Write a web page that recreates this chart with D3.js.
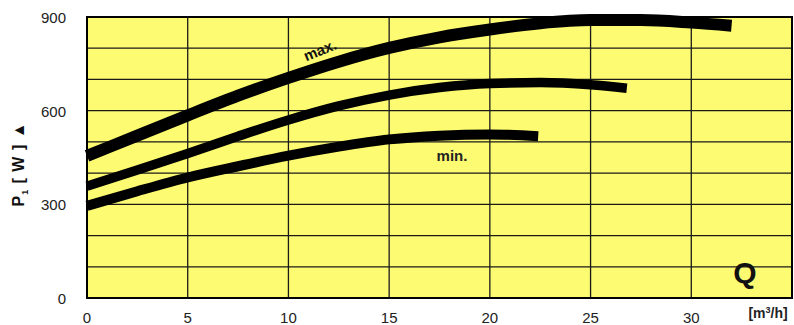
<!DOCTYPE html>
<html><head><meta charset="utf-8">
<script src="https://cdn.jsdelivr.net/npm/d3@7"></script>
<style>body{margin:0;background:#fff}svg{display:block}text{font-family:"Liberation Sans",Arial,sans-serif}</style>
</head><body><svg id="c" width="794" height="325"></svg>
<script>
const xTicks = [0,5,10,15,20,25,30];
const yTicks = [0,300,600,900];
const yGrid = [0,100,200,300,400,500,600,700,800,900];
const qMax = [0,2.5,5,7.5,10,12.5,15,17.5,20,22.5,25,27.5,30,32];
const pMax = [455,520,585,648,705,757,801,835,860,880,890,890,882,872];
const qMid = [0,2.5,5,7.5,10,12.5,15,17.5,20,22.5,25,26.8];
const pMid = [358,410,463,518,570,615,650,674,687,690,683,672];
const qMin = [0,2.5,5,7.5,10,12.5,15,17.5,20,22.4];
const pMin = [295,342,386,422,456,485,508,520,524,518];

const svg = d3.select("#c");
const L=87, R=792, T=17, B=298;
const x = d3.scaleLinear().domain([0,35]).range([L,R]);
const y = d3.scaleLinear().domain([0,900]).range([B,T]);

svg.append("rect").attr("x",L).attr("y",T).attr("width",R-L).attr("height",B-T).attr("fill","#fdfb72");

const g = svg.append("g");
g.selectAll(".hg").data(yGrid).join("line").attr("x1",L).attr("x2",R)
  .attr("y1",d=>y(d)).attr("y2",d=>y(d)).attr("stroke","#1a1a1a").attr("stroke-width",1.3);
g.selectAll(".vg").data(d3.range(0,35,5)).join("line").attr("y1",T).attr("y2",B)
  .attr("x1",d=>x(d)).attr("x2",d=>x(d)).attr("stroke","#1a1a1a").attr("stroke-width",1.3);

svg.append("rect").attr("x",L).attr("y",T).attr("width",R-L).attr("height",B-T)
  .attr("fill","none").attr("stroke","#000").attr("stroke-width",2);

const line = d3.line().x(d=>x(d[0])).y(d=>y(d[1])).curve(d3.curveMonotoneX);
const series = [[qMax,pMax,12],[qMid,pMid,9.5],[qMin,pMin,10]];
series.forEach(([q,p,w])=>{
  svg.append("path").datum(q.map((v,i)=>[v,p[i]])).attr("d",line)
    .attr("fill","none").attr("stroke","#000").attr("stroke-width",w);
});

svg.selectAll(".xt").data(xTicks).join("text").attr("x",d=>x(d)).attr("y",323)
  .attr("text-anchor","middle").attr("font-size",15).attr("fill","#222").text(d=>d);
svg.selectAll(".yt").data(yTicks).join("text").attr("x",66).attr("y",d=>y(d)+6)
  .attr("text-anchor","end").attr("font-size",15).attr("fill","#222").text(d=>d);

const yl = svg.append("text").attr("transform","translate(24,164) rotate(-90)")
  .attr("text-anchor","middle").attr("font-size",16).attr("font-weight","bold").attr("fill","#111")
  .attr("letter-spacing",1);
yl.append("tspan").text("P");
yl.append("tspan").attr("font-size",9).attr("dy",4).text("1");
yl.append("tspan").attr("dy",-4).text(" [ W ]  ▲");

svg.append("text").attr("x",768).attr("y",318).attr("text-anchor","middle").attr("font-size",14)
  .attr("font-weight","bold").attr("fill","#222").html('[m<tspan font-size="9" dy="-5">3</tspan><tspan dy="5">/h]</tspan>');

svg.append("text").attr("x",745).attr("y",283).attr("text-anchor","middle").attr("font-size",30)
  .attr("font-weight","bold").attr("fill","#111").text("Q");

svg.append("text").attr("transform","translate(322,55) rotate(-22)").attr("text-anchor","middle")
  .attr("font-size",15).attr("font-weight","bold").attr("fill","#111").text("max.");
svg.append("text").attr("x",452).attr("y",161).attr("text-anchor","middle")
  .attr("font-size",15).attr("font-weight","bold").attr("fill","#222").text("min.");
</script></body></html>
